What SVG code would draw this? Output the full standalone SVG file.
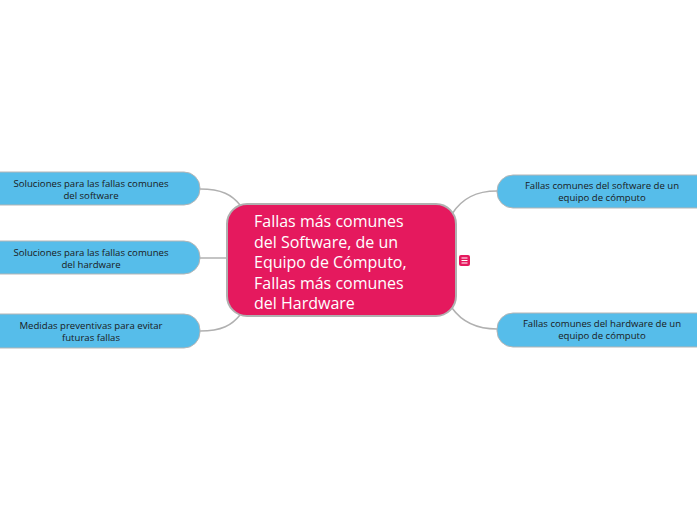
<svg xmlns="http://www.w3.org/2000/svg" width="697" height="520" viewBox="0 0 697 520">
<style>
.sub{fill:#56bdea;stroke:#b5b5b5;stroke-width:1}
.st{font-family:"Open Sans","DejaVu Sans",sans-serif;font-size:9.6px;fill:#1a1a1a;text-anchor:middle}
.ct{font-family:"Open Sans","DejaVu Sans",sans-serif;font-size:16px;fill:#ffffff}
.con{fill:none;stroke:#b0b0b0;stroke-width:1.5}
</style>
<rect width="697" height="520" fill="#ffffff"/>
<g id="connectors">
<path class="con" d="M200,189 C222,189 232,195 240,205"/>
<path class="con" d="M200,258 L227,258"/>
<path class="con" d="M200,331 C222,331 232,325 240,315"/>
<path class="con" d="M452,214 C462,198 476,191 497,191"/>
<path class="con" d="M452,308 C462,322 476,329 497,329"/>
</g>
<g id="central">
<rect x="227" y="204" width="229" height="112" rx="20" fill="#e5195e" stroke="#b0b0b0" stroke-width="2"/>
<text class="ct" x="254" y="227">Fallas más comunes</text>
<text class="ct" x="254" y="248">del Software, de un</text>
<text class="ct" x="254" y="268">Equipo de Cómputo,</text>
<text class="ct" x="254" y="289">Fallas más comunes</text>
<text class="ct" x="254" y="309">del Hardware</text>
</g>
<g id="icon">
<rect x="459" y="255" width="11" height="11" rx="2" fill="#e5195e"/>
<path d="M461.5,258 h6 M461.5,260.5 h6 M461.5,263 h6" stroke="#ffffff" stroke-width="1"/>
</g>
<g id="n1">
<rect class="sub" x="-20" y="172" width="220" height="33" rx="16"/>
<text class="st" x="91" y="186.5">Soluciones para las fallas comunes</text>
<text class="st" x="91" y="199">del software</text>
</g>
<g id="n2">
<rect class="sub" x="-20" y="241" width="220" height="33" rx="16"/>
<text class="st" x="91" y="255.5">Soluciones para las fallas comunes</text>
<text class="st" x="91" y="268">del hardware</text>
</g>
<g id="n3">
<rect class="sub" x="-20" y="314" width="220" height="34" rx="16"/>
<text class="st" x="91" y="328.5">Medidas preventivas para evitar</text>
<text class="st" x="91" y="341">futuras fallas</text>
</g>
<g id="n4">
<rect class="sub" x="497" y="175" width="220" height="33" rx="16"/>
<text class="st" x="602" y="188.5">Fallas comunes del software de un</text>
<text class="st" x="602" y="201">equipo de cómputo</text>
</g>
<g id="n5">
<rect class="sub" x="497" y="313" width="220" height="34" rx="16"/>
<text class="st" x="602" y="326.5">Fallas comunes del hardware de un</text>
<text class="st" x="602" y="339">equipo de cómputo</text>
</g>
</svg>
